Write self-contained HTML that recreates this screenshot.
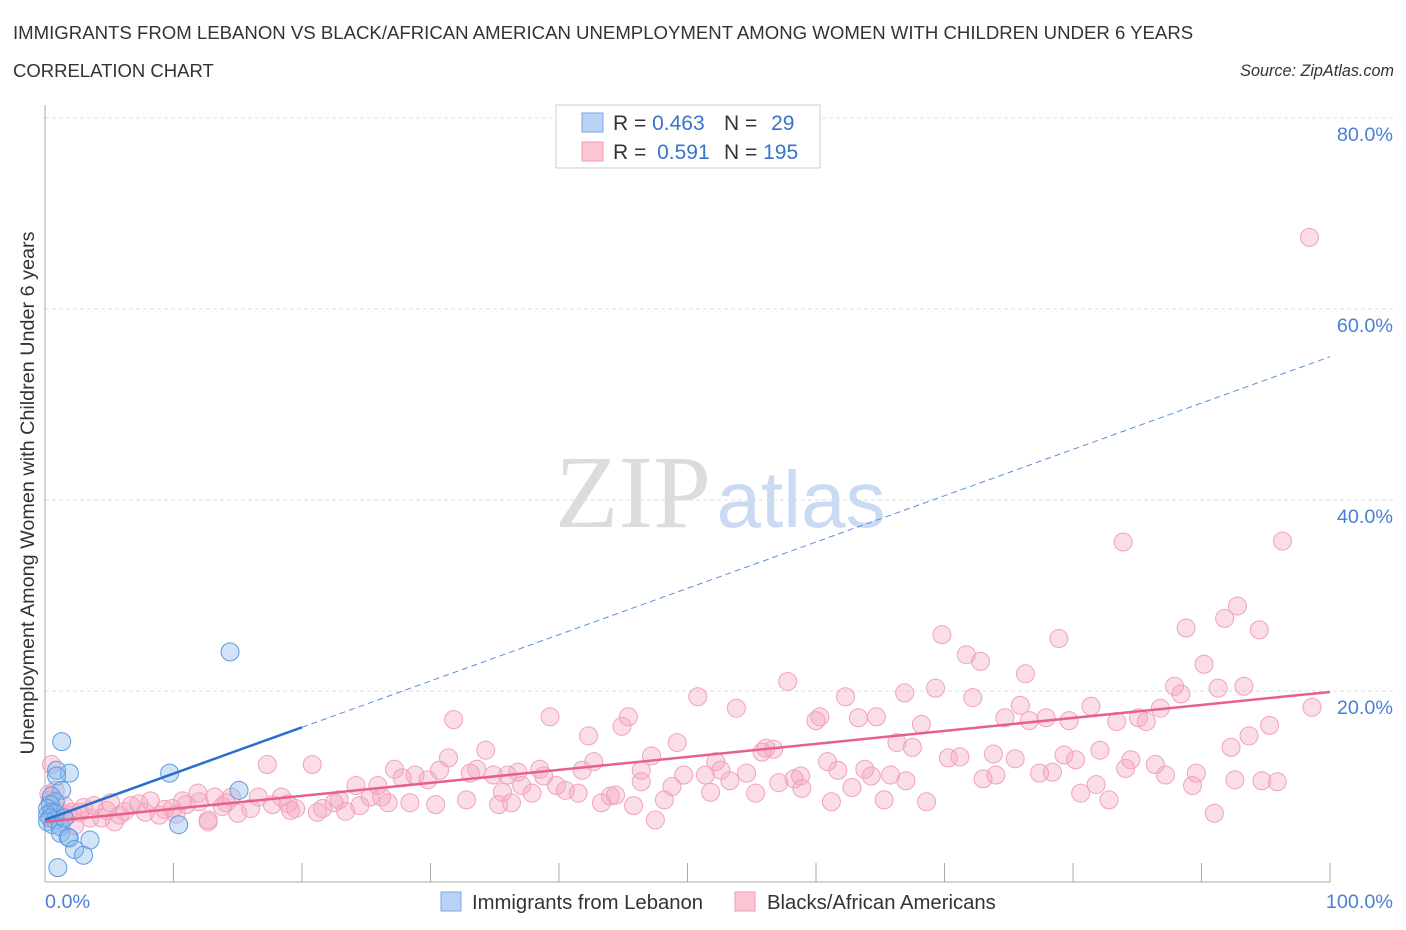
<!DOCTYPE html>
<html><head><meta charset="utf-8">
<style>
body{margin:0;background:#fff;width:1406px;height:930px;overflow:hidden;font-family:"Liberation Sans",sans-serif;}
svg{position:absolute;left:0;top:0}
</style></head><body>
<svg id="chart" width="1406" height="930" xmlns="http://www.w3.org/2000/svg">
<text x="13" y="39" font-size="18.6" fill="#333">IMMIGRANTS FROM LEBANON VS BLACK/AFRICAN AMERICAN UNEMPLOYMENT AMONG WOMEN WITH CHILDREN UNDER 6 YEARS</text>
<text x="13" y="77" font-size="18.5" fill="#333">CORRELATION CHART</text>
<text x="1394" y="76" font-size="16.2" fill="#333" font-style="italic" text-anchor="end">Source: ZipAtlas.com</text>
<g>
<text x="633" y="527" font-size="104" font-family="Liberation Serif,serif" fill="#dcdcdc" text-anchor="middle">ZIP</text>
<text x="801" y="527" font-size="80" fill="#c9daf2" text-anchor="middle">atlas</text>
</g>
<g id="grid"></g>
<g id="axes"></g>
<g id="pts"></g>
<g id="lines"></g>
<text transform="translate(34,493) rotate(-90)" font-size="19.8" fill="#333" text-anchor="middle">Unemployment Among Women with Children Under 6 years</text>
<g>
<rect x="556" y="105" width="264" height="63" fill="#fff" stroke="#ccc"/>
<rect x="582" y="113" width="21" height="19" fill="#b8d3f5" stroke="#7aaae6"/>
<rect x="582" y="142" width="21" height="19" fill="#fcc6d4" stroke="#f09ab4"/>
<text x="613" y="130" font-size="21" fill="#333">R = <tspan fill="#3a72cc">0.463</tspan></text>
<text x="724" y="130" font-size="21" fill="#333">N = <tspan fill="#3a72cc" dx="8">29</tspan></text>
<text x="613" y="159" font-size="21" fill="#333">R = <tspan fill="#3a72cc" dx="5">0.591</tspan></text>
<text x="724" y="159" font-size="21" fill="#333">N = <tspan fill="#3a72cc">195</tspan></text>
</g>
<g>
<rect x="441" y="892" width="20" height="19" fill="#b8d3f5" stroke="#7aaae6"/>
<text x="472" y="909" font-size="20.3" fill="#333">Immigrants from Lebanon</text>
<rect x="735" y="892" width="20" height="19" fill="#fcc6d4" stroke="#f09ab4"/>
<text x="767" y="909" font-size="20.3" fill="#333">Blacks/African Americans</text>
</g>
</svg>
<script>
const yTicks=[20,40,60,80];
const yTickLabels=["20.0%","40.0%","60.0%","80.0%"];
const xEndLabels=["0.0%","100.0%"];
const blueX=[14.4,1.3,0.9,1.9,9.7,0.9,15.1,1.3,0.5,0.8,0.4,0.2,0.5,0.8,0.2,0.4,0.8,0.2,0.6,1.2,10.4,1.2,1.8,1.9,3.5,2.3,3.0,1.0,1.5];
const blueY=[24.1,14.7,11.7,11.4,11.4,11.1,9.6,9.6,9.0,8.4,8.1,7.7,7.3,7.2,7.0,6.7,6.5,6.3,6.0,5.8,6.0,5.1,4.7,4.6,4.4,3.4,2.8,1.5,6.7];
const pinkX=[98.4,83.9,96.3,92.8,91.8,88.8,94.5,69.8,78.9,71.7,72.8,90.2,76.3,57.8,87.9,69.3,91.3,93.3,88.4,66.9,62.3,50.8,72.2,98.6,75.9,81.4,86.8,53.8,39.3,45.4,31.8,60.3,63.3,64.7,74.7,76.6,77.9,79.7,83.4,85.1,85.7,95.3,44.9,68.2,60.0,42.3,93.7,49.2,34.3,56.1,66.3,67.5,92.3,82.1,31.4,47.2,55.8,56.7,73.8,79.3,80.2,84.5,70.3,71.2,75.5,17.3,20.8,27.2,33.6,38.5,42.7,52.2,60.9,63.8,52.6,86.4,77.4,89.6,87.2,78.4,28.8,30.7,33.1,34.9,36.0,36.8,38.8,41.8,46.4,49.7,51.4,54.6,58.8,61.7,64.3,65.8,27.8,29.8,24.2,25.9,37.1,39.8,46.4,53.3,58.3,73.0,81.8,92.6,94.7,95.9,89.3,80.6,62.8,58.9,37.9,41.5,44.0,44.4,51.8,55.3,25.3,22.9,22.5,18.4,16.6,14.5,13.2,11.9,10.7,8.2,6.7,5.1,3.8,1.5,0.4,2.7,2.1,5.8,7.8,9.9,11.0,14.1,16.0,17.7,19.5,21.6,24.5,26.7,28.4,30.4,32.8,35.3,36.3,43.3,45.8,48.2,61.2,65.3,68.6,82.8,3.5,4.4,5.4,8.9,12.7,15.0,19.1,21.2,23.4,12.7,47.5,91.0,0.5,0.8,1.2,2.3,3.0,6.2,9.3,13.8,18.9,26.2,35.6,40.5,48.8,57.1,67.0,74.0,84.1,0.3,1.8,4.8,7.3,10.2,12.0];
const pinkY=[67.5,35.6,35.7,28.9,27.6,26.6,26.4,25.9,25.5,23.8,23.1,22.8,21.8,21.0,20.5,20.3,20.3,20.5,19.7,19.8,19.4,19.4,19.3,18.3,18.5,18.4,18.2,18.2,17.3,17.3,17.0,17.3,17.2,17.3,17.2,16.9,17.2,16.9,16.8,17.2,16.8,16.4,16.3,16.5,16.9,15.3,15.3,14.6,13.8,14.0,14.6,14.1,14.1,13.8,13.0,13.2,13.6,13.9,13.4,13.3,12.8,12.8,13.0,13.1,12.9,12.3,12.3,11.8,11.8,11.8,12.6,12.6,12.6,11.8,11.7,12.3,11.4,11.4,11.2,11.5,11.2,11.7,11.4,11.2,11.2,11.5,11.1,11.7,11.7,11.2,11.2,11.4,11.1,11.7,11.1,11.2,10.9,10.7,10.1,10.1,10.1,10.1,10.5,10.6,10.8,10.8,10.2,10.7,10.6,10.5,10.1,9.3,9.9,9.8,9.3,9.3,9.0,9.1,9.4,9.3,8.9,8.6,8.3,8.9,8.9,8.9,8.9,9.3,8.5,8.5,8.0,8.3,8.0,8.0,8.6,7.3,7.3,7.0,7.3,7.7,8.1,8.3,7.7,8.1,7.7,7.7,8.0,8.3,8.3,8.1,8.6,8.1,8.3,8.3,8.0,8.6,8.4,8.6,8.4,8.6,6.7,6.7,6.3,7.0,6.5,7.2,7.5,7.3,7.4,6.3,6.5,7.2,12.3,9.6,7.3,5.9,7.8,7.4,7.6,7.9,8.2,8.9,9.4,9.6,10.0,10.4,10.6,11.2,11.9,9.2,7.0,7.5,8.2,7.1,8.4];
const blueFit=[6.5,16.2,55.0];
const blueFitX=[0,20,100];
const pinkFit=[6.3,19.9];
const pinkFitX=[0,100];

const NS="http://www.w3.org/2000/svg";
const X0=45,X1=1330,Y0=882,YPER=9.55;
const sx=v=>X0+(X1-X0)*v/100;
const sy=v=>Y0-v*YPER;
function mk(tag,attrs,parent){const e=document.createElementNS(NS,tag);for(const k in attrs)e.setAttribute(k,attrs[k]);document.getElementById(parent).appendChild(e);return e;}

yTicks.forEach((t,i)=>{
  const g=mk('line',{x1:X0,x2:1393,y1:sy(t),y2:sy(t),stroke:'#ddd','stroke-dasharray':'4,3'},'grid');
  
  
  const l=mk('text',{x:1393,y:sy(t)+23,'font-size':19.8,fill:'#4a7fd4','text-anchor':'end'},'grid');
  l.textContent=yTickLabels[i];
  
  
});
const ya=mk('line',{x1:X0,x2:X0,y1:105,y2:Y0,stroke:'#aaa'},'axes');


const xa=mk('line',{x1:X0,x2:X1,y1:Y0,y2:Y0,stroke:'#aaa'},'axes');


for(let i=1;i<=10;i++){
  const t=mk('line',{x1:sx(i*10),x2:sx(i*10),y1:Y0-19,y2:Y0,stroke:'#aaa'},'axes');
  
  
}
const xl0=mk('text',{x:45,y:908,'font-size':19.8,fill:'#4a7fd4'},'axes');
xl0.textContent=xEndLabels[0];


const xl1=mk('text',{x:1393,y:908,'font-size':19.8,fill:'#4a7fd4','text-anchor':'end'},'axes');
xl1.textContent=xEndLabels[1];



pinkX.forEach((x,i)=>{
  const c=mk('circle',{cx:sx(x),cy:sy(pinkY[i]),r:9,fill:'rgba(245,165,190,0.38)',stroke:'#f0a3bb','stroke-width':1},'pts');
  
  
});
blueX.forEach((x,i)=>{
  const c=mk('circle',{cx:sx(x),cy:sy(blueY[i]),r:9,fill:'rgba(140,185,235,0.4)',stroke:'#5d9ae2','stroke-width':1},'pts');
  
  
});
const bl=mk('line',{x1:sx(blueFitX[0]),y1:sy(blueFit[0]),x2:sx(blueFitX[1]),y2:sy(blueFit[1]),stroke:'#2a6fd0','stroke-width':2.5},'lines');


const bd=mk('line',{x1:sx(blueFitX[1]),y1:sy(blueFit[1]),x2:sx(blueFitX[2]),y2:sy(blueFit[2]),stroke:'#5a8fd8','stroke-width':1,'stroke-dasharray':'6,4'},'lines');


const pl=mk('line',{x1:sx(pinkFitX[0]),y1:sy(pinkFit[0]),x2:sx(pinkFitX[1]),y2:sy(pinkFit[1]),stroke:'#e8608a','stroke-width':2.5},'lines');


</script>
</body></html>
